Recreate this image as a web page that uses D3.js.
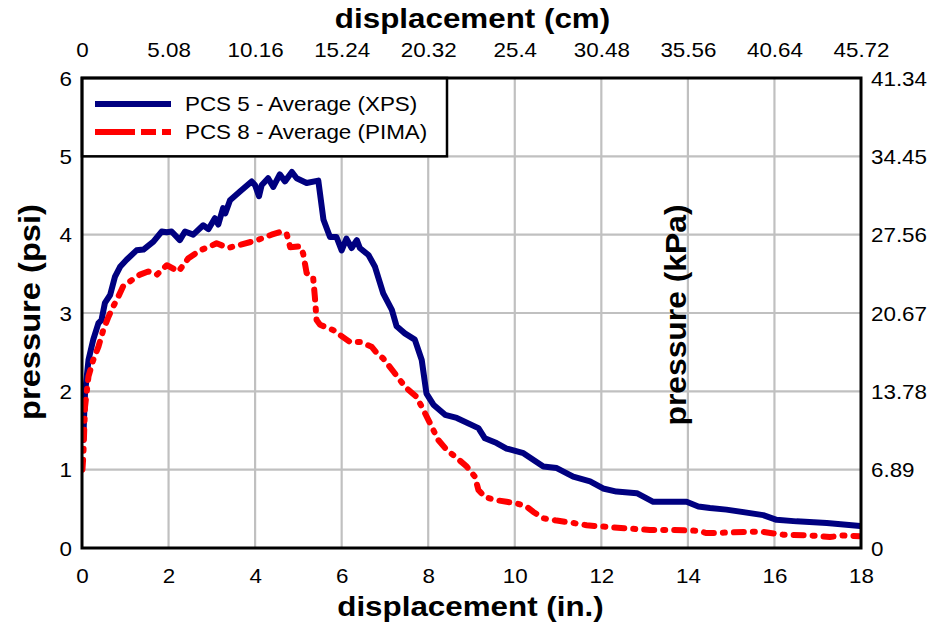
<!DOCTYPE html>
<html>
<head>
<meta charset="utf-8">
<script src="https://cdn.jsdelivr.net/npm/d3@7/dist/d3.min.js"></script>
<style>
  html, body { margin: 0; padding: 0; background: #fff; }
  svg { display: block; font-family: "Liberation Sans", Arial, sans-serif; }
</style>
</head>
<body>
<svg id="chart" width="933" height="628"></svg>
<script>
// Displacement (in.) and pressure (psi) for each averaged sensor series
const pcs5Disp = [0.03,0.05,0.07,0.15,0.26,0.38,0.45,0.53,0.65,0.76,0.88,1.03,1.26,1.42,1.65,1.84,1.96,2.07,2.26,2.38,2.57,2.80,2.92,3.07,3.15,3.26,3.31,3.42,3.65,3.92,4.00,4.09,4.15,4.30,4.42,4.57,4.69,4.85,4.96,5.19,5.46,5.58,5.73,5.88,6.00,6.11,6.23,6.35,6.42,6.62,6.77,6.96,7.16,7.27,7.46,7.69,7.85,7.96,8.12,8.39,8.66,9.16,9.31,9.58,9.81,10.20,10.66,10.97,11.35,11.74,12.04,12.35,12.82,13.20,13.97,14.24,14.51,14.89,15.74,16.05,16.51,17.21,17.98];
const pcs5Pres = [1.38,1.70,1.98,2.40,2.66,2.87,2.91,3.13,3.23,3.46,3.59,3.68,3.80,3.81,3.91,4.04,4.03,4.04,3.93,4.04,4.00,4.12,4.07,4.21,4.13,4.34,4.27,4.44,4.55,4.68,4.63,4.49,4.63,4.72,4.61,4.77,4.68,4.80,4.72,4.66,4.69,4.19,3.97,3.97,3.80,3.95,3.83,3.93,3.83,3.74,3.59,3.25,3.04,2.83,2.74,2.66,2.40,1.97,1.83,1.70,1.66,1.53,1.40,1.34,1.27,1.21,1.04,1.02,0.91,0.85,0.76,0.72,0.70,0.59,0.59,0.53,0.51,0.49,0.42,0.36,0.34,0.32,0.28];

const pcs8Disp = [0.01,0.03,0.07,0.15,0.26,0.38,0.49,0.61,0.72,0.84,0.95,1.15,1.34,1.53,1.73,1.96,2.23,2.46,2.73,2.96,3.11,3.38,3.65,3.92,4.15,4.38,4.61,4.73,4.81,5.04,5.11,5.19,5.34,5.38,5.42,5.50,5.81,5.96,6.19,6.42,6.69,6.81,6.96,7.20,7.35,7.50,7.73,7.89,8.08,8.23,8.43,8.66,8.89,9.08,9.16,9.31,9.58,9.81,10.04,10.27,10.43,10.66,10.97,11.35,11.66,12.12,12.59,13.12,13.66,14.24,14.43,15.05,15.66,16.20,16.82,17.28,17.60,17.97];
const pcs8Pres = [1.00,1.17,1.80,2.19,2.40,2.57,2.78,2.95,3.08,3.21,3.34,3.42,3.49,3.53,3.49,3.61,3.53,3.70,3.80,3.85,3.89,3.83,3.87,3.91,3.95,4.00,4.04,4.01,3.84,3.85,3.76,3.51,3.46,3.21,2.91,2.85,2.78,2.72,2.63,2.63,2.57,2.49,2.42,2.25,2.14,2.04,1.93,1.76,1.55,1.38,1.25,1.15,1.04,0.91,0.74,0.65,0.61,0.59,0.57,0.53,0.46,0.38,0.35,0.32,0.29,0.27,0.25,0.23,0.23,0.22,0.19,0.20,0.21,0.17,0.16,0.14,0.16,0.15];

const seriesNames = ["PCS 5 - Average (XPS)", "PCS 8 - Average (PIMA)"];

// Axis ticks: inches below, centimetres above, psi left, kPa right
const inchTicks = [0,2,4,6,8,10,12,14,16,18];
const cmTickLabels = ["0","5.08","10.16","15.24","20.32","25.4","30.48","35.56","40.64","45.72"];
const psiTicks = [0,1,2,3,4,5,6];
const kpaTickLabels = ["0","6.89","13.78","20.67","27.56","34.45","41.34"];

const svg = d3.select("#chart");
const plot = { left: 82, right: 861, top: 78, bottom: 548 };
const SX = 1.12; // horizontal widening of the typeface
const TICK_FS = 20;

const x = d3.scaleLinear().domain([0, 18]).range([plot.left, plot.right]);
const y = d3.scaleLinear().domain([0, 6]).range([plot.bottom, plot.top]);

svg.append("defs").append("clipPath").attr("id", "plotClip")
  .append("rect").attr("x", plot.left).attr("y", plot.top)
  .attr("width", plot.right - plot.left).attr("height", plot.bottom - plot.top);

// grid
const grid = svg.append("g").attr("stroke", "#c0c0c0").attr("stroke-width", 2.2);
grid.selectAll("line.v").data(inchTicks.slice(1, -1)).join("line")
  .attr("x1", d => x(d)).attr("x2", d => x(d))
  .attr("y1", plot.top).attr("y2", plot.bottom);
grid.selectAll("line.h").data(psiTicks.slice(1, -1)).join("line")
  .attr("y1", d => y(d)).attr("y2", d => y(d))
  .attr("x1", plot.left).attr("x2", plot.right);

// series lines
const line = d3.line().x(d => x(d[0])).y(d => y(d[1]));
const pcs5 = pcs5Disp.map((d, i) => [d, pcs5Pres[i]]);
const pcs8 = pcs8Disp.map((d, i) => [d, pcs8Pres[i]]);
const lines = svg.append("g").attr("clip-path", "url(#plotClip)");
lines.append("path").datum(pcs5).attr("d", line)
  .attr("fill", "none").attr("stroke", "#000080").attr("stroke-width", 6)
  .attr("stroke-linejoin", "round").attr("stroke-linecap", "round");
lines.append("path").datum(pcs8).attr("d", line)
  .attr("fill", "none").attr("stroke", "#ff0000").attr("stroke-width", 6)
  .attr("stroke-linejoin", "round").attr("stroke-linecap", "round")
  .attr("stroke-dasharray", "10,9,2,9");

// legend
const leg = svg.append("g");
leg.append("rect").attr("x", plot.left).attr("y", plot.top)
  .attr("width", 365).attr("height", y(5) - plot.top)
  .attr("fill", "#fff").attr("stroke", "#000").attr("stroke-width", 2.5);
const legRows = [
  { name: seriesNames[0], color: "#000080", dash: null, yy: 104 },
  { name: seriesNames[1], color: "#ff0000", dash: "40,6,15,6", yy: 132 }
];
legRows.forEach(r => {
  leg.append("line").attr("x1", 95).attr("x2", 171).attr("y1", r.yy).attr("y2", r.yy)
    .attr("stroke", r.color).attr("stroke-width", 6)
    .attr("stroke-dasharray", r.dash);
  leg.append("text").attr("transform", `translate(185,${r.yy + 7}) scale(${SX},1)`)
    .attr("font-size", 20).attr("fill", "#000").text(r.name);
});

// axes (labels only, no tick marks)
function styleAxis(g) {
  g.select(".domain").remove();
  g.selectAll(".tick line").remove();
  g.selectAll(".tick text").attr("font-size", TICK_FS).attr("fill", "#000")
    .attr("font-family", "Liberation Sans, Arial, sans-serif");
}
const xBottom = svg.append("g").attr("transform", `translate(0,${plot.bottom})`)
  .call(d3.axisBottom(x).tickValues(inchTicks).tickSize(0).tickPadding(0).tickFormat(d3.format("d")));
styleAxis(xBottom);
xBottom.selectAll(".tick text").attr("dy", null).attr("y", 0)
  .attr("transform", `translate(0,35) scale(${SX},1)`);

const xTop = svg.append("g").attr("transform", `translate(0,${plot.top})`)
  .call(d3.axisTop(x).tickValues(inchTicks).tickSize(0).tickPadding(0)
    .tickFormat((d, i) => cmTickLabels[i]));
styleAxis(xTop);
xTop.selectAll(".tick text").attr("dy", null).attr("y", 0)
  .attr("transform", `translate(0,-21) scale(${SX},1)`);

const yLeft = svg.append("g").attr("transform", `translate(${plot.left},0)`)
  .call(d3.axisLeft(y).tickValues(psiTicks).tickSize(0).tickPadding(0).tickFormat(d3.format("d")));
styleAxis(yLeft);
yLeft.selectAll(".tick text").attr("x", 0).attr("dy", "0.36em")
  .attr("transform", `translate(-10,0) scale(${SX},1)`);

const yRight = svg.append("g").attr("transform", `translate(${plot.right},0)`)
  .call(d3.axisRight(y).tickValues(psiTicks).tickSize(0).tickPadding(0)
    .tickFormat((d, i) => kpaTickLabels[i]));
styleAxis(yRight);
yRight.selectAll(".tick text").attr("x", 0).attr("dy", "0.36em")
  .attr("transform", `translate(10,0) scale(${SX},1)`);

// frame
svg.append("rect").attr("x", plot.left).attr("y", plot.top)
  .attr("width", plot.right - plot.left).attr("height", plot.bottom - plot.top)
  .attr("fill", "none").attr("stroke", "#000").attr("stroke-width", 3);

// titles
const midX = (plot.left + plot.right) / 2;
const midY = (plot.top + plot.bottom) / 2;
svg.append("text").attr("transform", `translate(${midX + 1},28) scale(${SX},1)`)
  .attr("text-anchor", "middle").attr("font-size", 28).attr("font-weight", "bold")
  .text("displacement (cm)");
svg.append("text").attr("transform", `translate(${midX - 1},616) scale(${SX},1)`)
  .attr("text-anchor", "middle").attr("font-size", 28).attr("font-weight", "bold")
  .text("displacement (in.)");
svg.append("text").attr("transform", `translate(40,${midY - 1}) rotate(-90)`)
  .attr("text-anchor", "middle").attr("font-size", 29).attr("font-weight", "bold")
  .attr("textLength", 216).attr("lengthAdjust", "spacingAndGlyphs")
  .text("pressure (psi)");
svg.append("text").attr("transform", `translate(686,${midY + 2}) rotate(-90)`)
  .attr("text-anchor", "middle").attr("font-size", 29).attr("font-weight", "bold")
  .attr("textLength", 221).attr("lengthAdjust", "spacingAndGlyphs")
  .text("pressure (kPa)");
</script>
</body>
</html>
